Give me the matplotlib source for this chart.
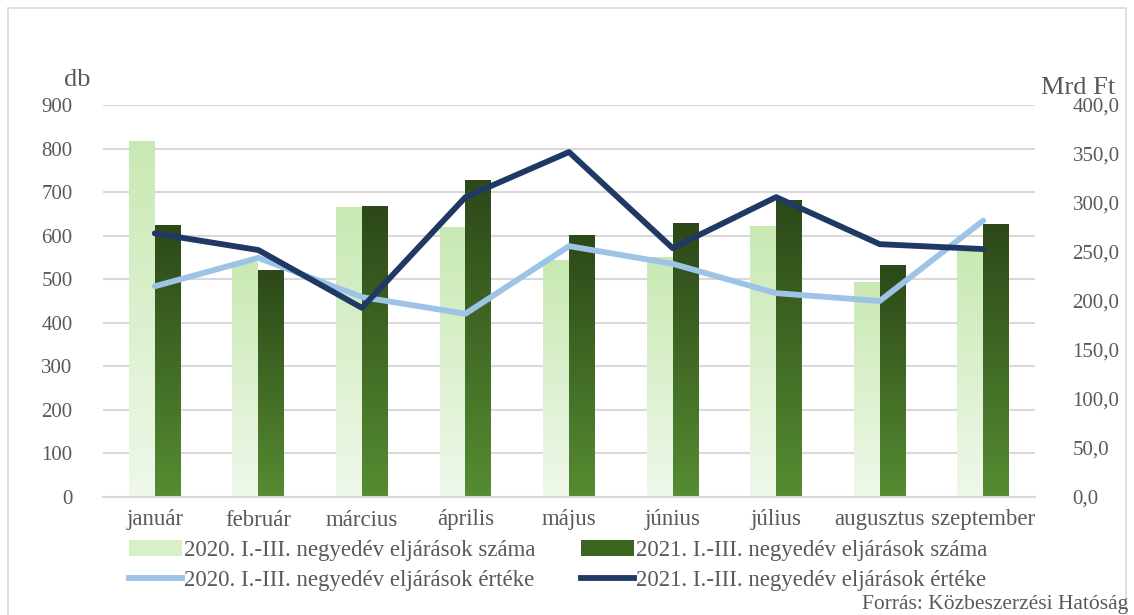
import numpy as np
import matplotlib
matplotlib.use("Agg")
import matplotlib.pyplot as plt
from matplotlib.colors import LinearSegmentedColormap
from matplotlib.patches import Rectangle, Patch
from matplotlib.lines import Line2D

plt.rcParams['font.family'] = ['Liberation Serif', 'DejaVu Serif']

months = ["január", "február", "március", "április", "május",
          "június", "július", "augusztus", "szeptember"]
count_2020 = [817, 540, 665, 620, 544, 551, 622, 494, 565]
count_2021 = [624, 521, 668, 728, 601, 629, 682, 533, 627]
value_2020 = [215, 244, 204, 187, 256, 238, 208, 200, 282]
value_2021 = [269, 252, 193, 306, 352, 254, 306, 258, 253]

lab_c20 = "2020. I.-III. negyedév eljárások száma"
lab_c21 = "2021. I.-III. negyedév eljárások száma"
lab_v20 = "2020. I.-III. negyedév eljárások értéke"
lab_v21 = "2021. I.-III. negyedév eljárások értéke"

txt = "#595959"
fs = 15

fig = plt.figure(figsize=(11.34, 6.15), dpi=100)
ax = fig.add_axes([103 / 1134, 1 - 497 / 615, 932 / 1134, 392 / 615])
ax2 = ax.twinx()

x = np.arange(len(months))
w = 0.25

light_cm = LinearSegmentedColormap.from_list("light", ["#eff8ea", "#c9e9b3"])
dark_cm = LinearSegmentedColormap.from_list("dark", ["#568c32", "#2c4818"])
grad = np.linspace(0, 1, 256).reshape(-1, 1)

bars1 = ax.bar(x - w / 2, count_2020, w, color="none", zorder=2)
bars2 = ax.bar(x + w / 2, count_2021, w, color="none", zorder=2)
for bars, cm in ((bars1, light_cm), (bars2, dark_cm)):
    for b in bars:
        bx = b.get_x()
        im = ax.imshow(grad, cmap=cm, origin="lower", aspect="auto",
                       extent=[bx, bx + b.get_width(), 0, b.get_height()],
                       zorder=2, interpolation="bilinear")
        im.set_clip_path(b)

ax.set_xlim(-0.5, len(months) - 0.5)
ax.set_ylim(0, 900)
ax.set_yticks(range(0, 901, 100))
ax.grid(axis="y", color="#d9d9d9", linewidth=1.5, zorder=0)
ax.set_axisbelow(True)
for s in ["top", "left", "right"]:
    ax.spines[s].set_visible(False)
    ax2.spines[s].set_visible(False)
ax.spines["bottom"].set_color("#d9d9d9")
ax.spines["bottom"].set_linewidth(1.5)
ax2.spines["bottom"].set_visible(False)
ax.set_xticks(x)
ax.set_xticklabels(months)
ax.tick_params(axis="x", length=0, pad=9, labelsize=16.5, labelcolor=txt)
ax.tick_params(axis="y", length=0, pad=22, labelsize=fs, labelcolor=txt)

ax2.plot(x, value_2020, color="#9dc3e6", linewidth=4.2, solid_capstyle="round", zorder=3)
ax2.plot(x, value_2021, color="#203864", linewidth=4.2, solid_capstyle="round", zorder=4)
ax2.set_ylim(0, 400)
ax2.set_yticks(range(0, 401, 50))
ax2.set_yticklabels([f"{v},0" for v in range(0, 401, 50)])
ax2.tick_params(axis="y", length=0, pad=27, labelsize=fs, labelcolor=txt)

fig.text(77 / 1134, 1 - 80 / 615, "db", ha="center", va="center", fontsize=19, color=txt)
fig.text(1078 / 1134, 1 - 88 / 615, "Mrd Ft", ha="center", va="center", fontsize=19, color=txt)
fig.text(1128 / 1134, 1 - 604 / 615, "Forrás: Közbeszerzési Hatóság", ha="right", va="center",
         fontsize=15.5, color=txt)

handles = [Patch(facecolor="#d8f0c8", edgecolor="none"),
           Line2D([], [], color="#9dc3e6", linewidth=4.2),
           Patch(facecolor="#3b6620", edgecolor="none"),
           Line2D([], [], color="#203864", linewidth=4.2)]
labels = [lab_c20, lab_v20, lab_c21, lab_v21]
leg = fig.legend(handles, labels, ncol=2, loc="upper left",
                 bbox_to_anchor=(129 / 1134, 1 - 540 / 615), frameon=False,
                 fontsize=16.5, handlelength=2.3, handletextpad=0.1,
                 columnspacing=2.0, labelspacing=0.38, borderpad=0,
                 borderaxespad=0)
for t in leg.get_texts():
    t.set_color(txt)

fig.patches.append(Rectangle((8 / 1134, -0.05), 1118 / 1134, 1.05 - 8 / 615,
                             transform=fig.transFigure, fill=False,
                             edgecolor="#d9d9d9", linewidth=1.2))

fig.savefig("out.png", dpi=100)
